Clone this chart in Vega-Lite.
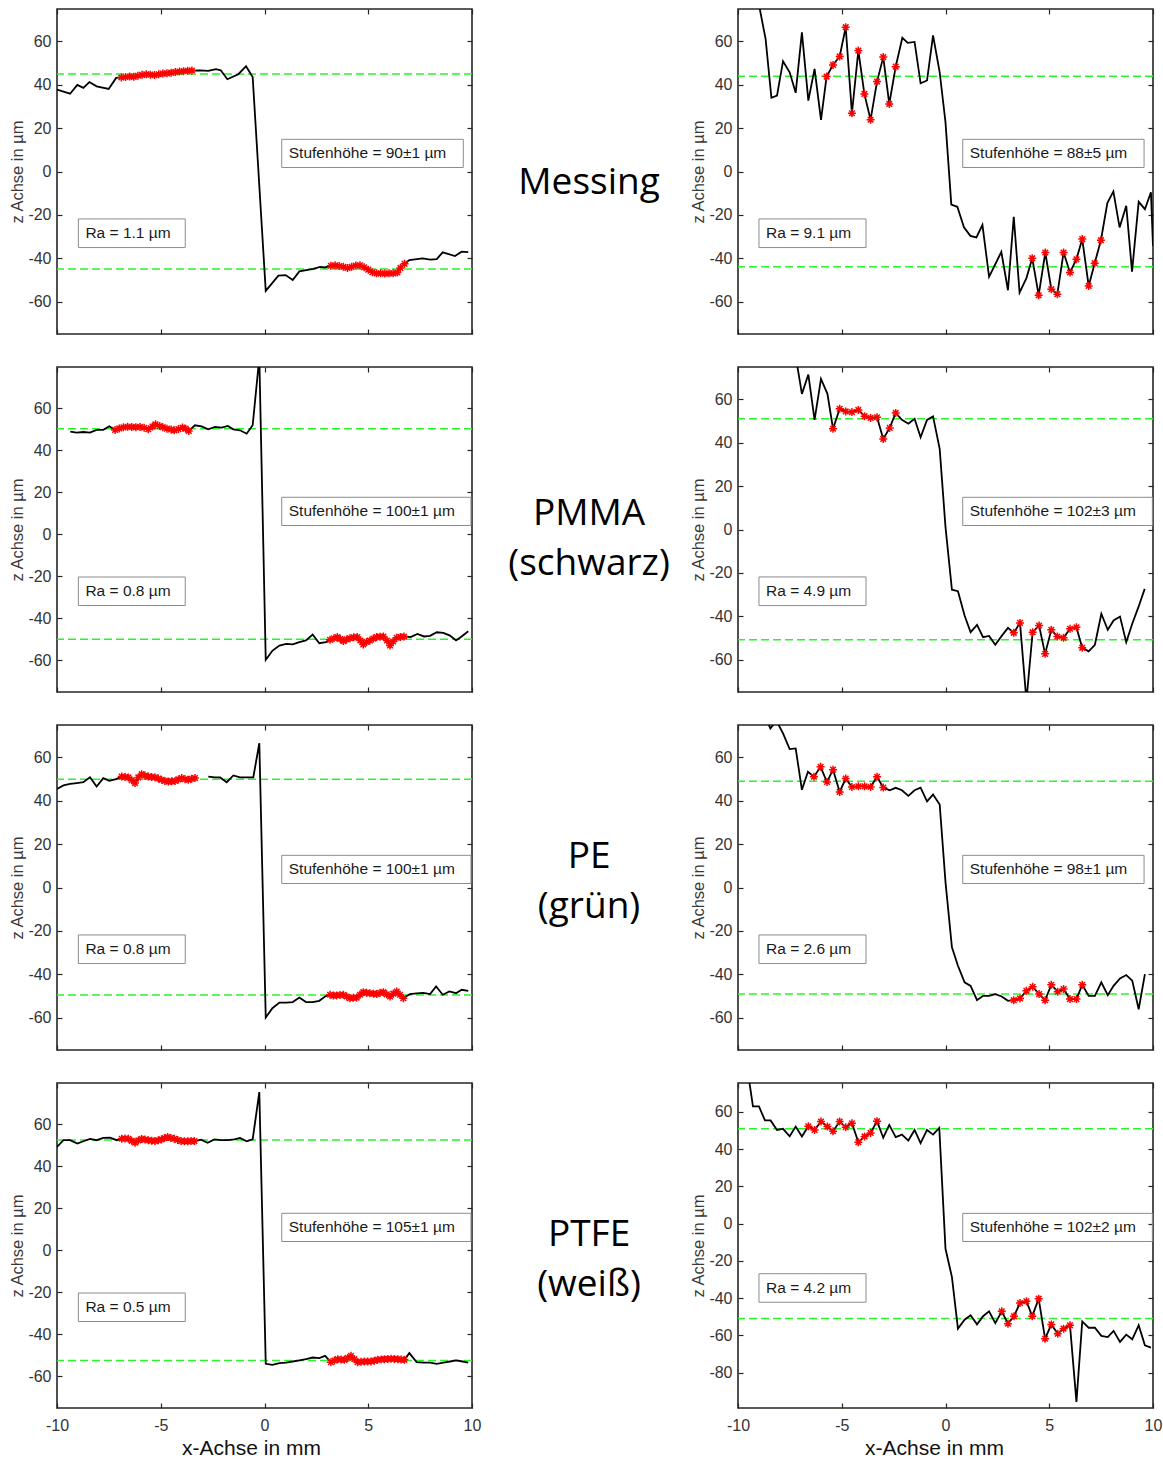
{
"$schema":"https://vega.github.io/schema/vega-lite/v6.json",
"autosize":"none",
"padding":{"left":57,"top":9,"right":1106,"bottom":1452},
"bounds":"flush",
"columns":3,
"spacing":{"row":33,"column":0},
"config":{
"view":{"stroke":"#262626","strokeWidth":1.6},
"axis":{"domain":false,"grid":false,"tickSize":-5,"tickColor":"#262626","tickWidth":1.2,"labelColor":"#333333","labelFont":"Liberation Sans","labelFontSize":16,"labelFlush":false,"labelExpr":"'' + datum.value","titleFont":"Liberation Sans","titleFontWeight":"normal","titleColor":"#383838","titleFontSize":16.5},
"axisX":{"labelPadding":14,"titlePadding":4,"titleFontSize":21,"titleColor":"#111111"},
"axisY":{"labelPadding":11,"titlePadding":2},
"line":{"color":"#000000","strokeWidth":1.8},
"point":{"shape":"M0,-1L0,1M-1,0L1,0M-0.7,-0.7L0.7,0.7M-0.7,0.7L0.7,-0.7","filled":false,"color":"#ff0000","strokeWidth":1.5,"size":64,"opacity":1},
"rule":{"color":"#2af52a","strokeDash":[8,4],"strokeWidth":1.5},
"text":{"font":"Liberation Sans","fontSize":15.5,"color":"#1a1a1a"}
},
"datasets":{
"g1L":[{"z":45},{"z":-45}],
"g1R":[{"z":44},{"z":-44}],
"g2L":[{"z":50.2},{"z":-49.9}],
"g2R":[{"z":51.1},{"z":-50.9}],
"g3L":[{"z":50},{"z":-49.6}],
"g3R":[{"z":49},{"z":-49.1}],
"g4L":[{"z":52.4},{"z":-52.4}],
"g4R":[{"z":50.9},{"z":-50.9}],
"p1L":[{"x":-10,"z":37.8},{"x":-9.37,"z":35.9},{"x":-9.02,"z":40},{"x":-8.73,"z":38.6},{"x":-8.44,"z":41.3},{"x":-8.09,"z":39.3},{"x":-7.51,"z":38.1},{"x":-7.15,"z":43.2},
{"x":-6.9,"z":43.4,"m":1},{"x":-6.7,"z":43.6,"m":1},{"x":-6.5,"z":43.8,"m":1},{"x":-6.3,"z":43.7,"m":1},{"x":-6.1,"z":44.2,"m":1},{"x":-5.9,"z":44.6,"m":1},{"x":-5.7,"z":44.9,"m":1},{"x":-5.5,"z":44.7,"m":1},{"x":-5.3,"z":44.5,"m":1},{"x":-5.1,"z":44.9,"m":1},{"x":-4.9,"z":45.2,"m":1},{"x":-4.7,"z":45.3,"m":1},{"x":-4.5,"z":45.6,"m":1},{"x":-4.3,"z":45.9,"m":1},{"x":-4.1,"z":46.1,"m":1},{"x":-3.9,"z":46.3,"m":1},{"x":-3.7,"z":46.5,"m":1},{"x":-3.5,"z":46.6,"m":1},
{"x":-3.11,"z":46.7},{"x":-2.71,"z":46.4},{"x":-2.34,"z":47.2},{"x":-2.11,"z":46.7},{"x":-1.79,"z":42.6},{"x":-1.26,"z":44.9},{"x":-0.89,"z":48.6},{"x":-0.57,"z":43.6},{"x":0.06,"z":-55.1},{"x":0.67,"z":-48.1},{"x":1.02,"z":-47.8},{"x":1.36,"z":-50.1},{"x":1.68,"z":-46.1},{"x":2.35,"z":-44.9},{"x":2.68,"z":-44},{"x":2.92,"z":-44.3},
{"x":3.2,"z":-43.5,"m":1},{"x":3.4,"z":-43.3,"m":1},{"x":3.6,"z":-43.6,"m":1},{"x":3.8,"z":-44.0,"m":1},{"x":4.0,"z":-44.5,"m":1},{"x":4.2,"z":-44.0,"m":1},{"x":4.4,"z":-43.4,"m":1},{"x":4.6,"z":-43.3,"m":1},{"x":4.8,"z":-44.2,"m":1},{"x":5.0,"z":-45.3,"m":1},{"x":5.2,"z":-46.5,"m":1},{"x":5.4,"z":-47.0,"m":1},{"x":5.6,"z":-47.0,"m":1},{"x":5.8,"z":-47.1,"m":1},{"x":6.0,"z":-47.0,"m":1},{"x":6.2,"z":-47.0,"m":1},{"x":6.4,"z":-46.6,"m":1},{"x":6.55,"z":-44.5,"m":1},{"x":6.75,"z":-42.6,"m":1},
{"x":6.98,"z":-40.9},{"x":7.62,"z":-40.1},{"x":7.98,"z":-40.7},{"x":8.3,"z":-40.4},{"x":8.59,"z":-37.3},{"x":9.18,"z":-39},{"x":9.5,"z":-37},{"x":9.82,"z":-37.2}],
"p1R":[{"x":-9.27,"z":110},{"x":-8.97,"z":76},{"x":-8.67,"z":61.2},{"x":-8.39,"z":34.0},{"x":-8.12,"z":35.0},{"x":-7.83,"z":50.9},{"x":-7.51,"z":45.8},{"x":-7.22,"z":36.3},{"x":-6.92,"z":64.2},{"x":-6.61,"z":32.7},{"x":-6.31,"z":47.4},{"x":-6.0,"z":23.8},
{"x":-5.73,"z":43.8,"m":1},{"x":-5.42,"z":49.2,"m":1},{"x":-5.1,"z":53.1,"m":1},{"x":-4.81,"z":66.6,"m":1},{"x":-4.51,"z":26.9,"m":1},{"x":-4.2,"z":55.8,"m":1},{"x":-3.91,"z":35.8,"m":1},{"x":-3.61,"z":23.9,"m":1},{"x":-3.3,"z":41.5,"m":1},{"x":-3.0,"z":52.8,"m":1},{"x":-2.71,"z":31.2,"m":1},{"x":-2.4,"z":48.4,"m":1},
{"x":-2.08,"z":61.7},{"x":-1.82,"z":59.4},{"x":-1.49,"z":59.8},{"x":-1.2,"z":40.7},{"x":-0.89,"z":42.0},{"x":-0.6,"z":62.8},{"x":-0.28,"z":45.8},{"x":0.0,"z":22.7},{"x":0.28,"z":-15.3},{"x":0.57,"z":-16.3},{"x":0.89,"z":-25.8},{"x":1.2,"z":-29.7},{"x":1.49,"z":-30.4},{"x":1.78,"z":-24.6},{"x":2.1,"z":-48.6},{"x":2.4,"z":-42.8},{"x":2.69,"z":-37.1},{"x":3.01,"z":-54.8},{"x":3.29,"z":-20.9},{"x":3.57,"z":-55.9},{"x":3.9,"z":-49.2},
{"x":4.18,"z":-40.0,"m":1},{"x":4.49,"z":-57.1,"m":1},{"x":4.81,"z":-37.4,"m":1},{"x":5.1,"z":-54.3,"m":1},{"x":5.39,"z":-56.6,"m":1},{"x":5.69,"z":-37.4,"m":1},{"x":6.0,"z":-46.6,"m":1},{"x":6.31,"z":-40.5,"m":1},{"x":6.59,"z":-31.2,"m":1},{"x":6.9,"z":-52.8,"m":1},{"x":7.19,"z":-42.3,"m":1},{"x":7.49,"z":-31.7,"m":1},
{"x":7.8,"z":-14.6},{"x":8.09,"z":-9.2},{"x":8.39,"z":-25.8},{"x":8.71,"z":-15.8},{"x":8.99,"z":-46.2},{"x":9.31,"z":-14.0},{"x":9.61,"z":-17.4},{"x":9.9,"z":-9.6},{"x":10.0,"z":-34.3}],
"p2L":[{"x":-9.36,"z":48.8},{"x":-9.05,"z":48.3},{"x":-8.73,"z":48.6},{"x":-8.41,"z":48.3},{"x":-8.09,"z":49.6},{"x":-7.77,"z":49.6},{"x":-7.48,"z":51.3},
{"x":-7.2,"z":49.6,"m":1},{"x":-7.0,"z":50.3,"m":1},{"x":-6.8,"z":50.8,"m":1},{"x":-6.6,"z":51.1,"m":1},{"x":-6.4,"z":51.0,"m":1},{"x":-6.2,"z":50.9,"m":1},{"x":-6.0,"z":51.0,"m":1},{"x":-5.8,"z":50.6,"m":1},{"x":-5.6,"z":49.9,"m":1},{"x":-5.4,"z":51.2,"m":1},{"x":-5.25,"z":52.3,"m":1},{"x":-5.05,"z":51.4,"m":1},{"x":-4.9,"z":50.9,"m":1},{"x":-4.7,"z":50.2,"m":1},{"x":-4.5,"z":49.8,"m":1},{"x":-4.35,"z":49.4,"m":1},{"x":-4.15,"z":50.0,"m":1},{"x":-3.95,"z":50.7,"m":1},{"x":-3.8,"z":50.2,"m":1},{"x":-3.65,"z":49.1,"m":1},
{"x":-3.35,"z":51.8},{"x":-3.03,"z":51.3},{"x":-2.71,"z":49.9},{"x":-2.39,"z":51},{"x":-2.06,"z":50.7},{"x":-1.77,"z":51.5},{"x":-1.5,"z":49.9},{"x":-1.18,"z":49.4},{"x":-0.86,"z":47.8},{"x":-0.57,"z":51.8},{"x":-0.25,"z":84},{"x":0.06,"z":-59.7},{"x":0.39,"z":-55.3},{"x":0.72,"z":-52.9},{"x":1.04,"z":-52.1},{"x":1.36,"z":-52.4},{"x":1.68,"z":-51.3},{"x":2.0,"z":-50.5},{"x":2.32,"z":-47.7},{"x":2.64,"z":-51.8},{"x":2.96,"z":-51.3},
{"x":3.16,"z":-50.2,"m":1},{"x":3.35,"z":-49.5,"m":1},{"x":3.51,"z":-48.9,"m":1},{"x":3.65,"z":-49.8,"m":1},{"x":3.8,"z":-50.8,"m":1},{"x":3.96,"z":-50.0,"m":1},{"x":4.12,"z":-49.4,"m":1},{"x":4.3,"z":-49.0,"m":1},{"x":4.47,"z":-48.9,"m":1},{"x":4.62,"z":-50.5,"m":1},{"x":4.76,"z":-52.4,"m":1},{"x":4.92,"z":-51.2,"m":1},{"x":5.08,"z":-50.5,"m":1},{"x":5.25,"z":-49.6,"m":1},{"x":5.41,"z":-48.9,"m":1},{"x":5.57,"z":-48.7,"m":1},{"x":5.73,"z":-48.6,"m":1},{"x":5.9,"z":-50.5,"m":1},{"x":6.05,"z":-52.9,"m":1},{"x":6.2,"z":-51.0,"m":1},{"x":6.37,"z":-49.2,"m":1},{"x":6.55,"z":-48.8,"m":1},{"x":6.72,"z":-48.6,"m":1},
{"x":7.04,"z":-48.9},{"x":7.37,"z":-47.4},{"x":7.69,"z":-48.6},{"x":7.98,"z":-48.3},{"x":8.3,"z":-46.6},{"x":8.62,"z":-46.9},{"x":8.94,"z":-48.2},{"x":9.23,"z":-50.5},{"x":9.5,"z":-48.6},{"x":9.82,"z":-46.1}],
"p2R":[{"x":-7.22,"z":80},{"x":-6.92,"z":62.6},{"x":-6.61,"z":71.5},{"x":-6.31,"z":50.6},{"x":-6.0,"z":69.5},{"x":-5.69,"z":62.6},
{"x":-5.42,"z":46.5,"m":1},{"x":-5.1,"z":55.7,"m":1},{"x":-4.81,"z":54.5,"m":1},{"x":-4.51,"z":54.2,"m":1},{"x":-4.2,"z":55.2,"m":1},{"x":-3.9,"z":52.3,"m":1},{"x":-3.61,"z":51.5,"m":1},{"x":-3.3,"z":51.8,"m":1},{"x":-3.0,"z":41.8,"m":1},{"x":-2.69,"z":46.9,"m":1},{"x":-2.4,"z":53.8,"m":1},
{"x":-2.1,"z":50.6},{"x":-1.79,"z":48.8},{"x":-1.49,"z":51.1},{"x":-1.2,"z":42.6},{"x":-0.89,"z":50.6},{"x":-0.6,"z":52.2},{"x":-0.28,"z":37.2},{"x":0.0,"z":1.1},{"x":0.31,"z":-27.8},{"x":0.6,"z":-28.5},{"x":0.92,"z":-39.7},{"x":1.21,"z":-47.4},{"x":1.52,"z":-44.0},{"x":1.81,"z":-49.7},{"x":2.1,"z":-49.1},{"x":2.4,"z":-53.2},{"x":2.71,"z":-49.1},{"x":3.01,"z":-45.4},
{"x":3.29,"z":-47.7,"m":1},{"x":3.59,"z":-43.1,"m":1},{"x":3.9,"z":-79,"m":1},{"x":4.2,"z":-47.4,"m":1},{"x":4.51,"z":-44.3,"m":1},{"x":4.8,"z":-57.4,"m":1},{"x":5.1,"z":-46.3,"m":1},{"x":5.39,"z":-49.4,"m":1},{"x":5.69,"z":-50.0,"m":1},{"x":6.0,"z":-45.8,"m":1},{"x":6.31,"z":-45.1,"m":1},{"x":6.59,"z":-54.6,"m":1},
{"x":6.9,"z":-56.2},{"x":7.2,"z":-53.2},{"x":7.51,"z":-38.9},{"x":7.82,"z":-46.3},{"x":8.1,"z":-42.0},{"x":8.41,"z":-40.2},{"x":8.71,"z":-52.0},{"x":9.0,"z":-43.5},{"x":9.31,"z":-35.5},{"x":9.6,"z":-27.4}],
"p3L":[{"x":-10,"z":45.5,"s":1},{"x":-9.69,"z":47.1,"s":1},{"x":-9.37,"z":47.8,"s":1},{"x":-9.05,"z":48.2,"s":1},{"x":-8.73,"z":48.6,"s":1},{"x":-8.41,"z":50.9,"s":1},{"x":-8.09,"z":46.6,"s":1},{"x":-7.77,"z":50.5,"s":1},{"x":-7.48,"z":49.2,"s":1},{"x":-7.16,"z":50.0,"s":1},
{"x":-6.88,"z":51.2,"m":1,"s":1},{"x":-6.72,"z":51.0,"m":1,"s":1},{"x":-6.56,"z":50.8,"m":1,"s":1},{"x":-6.4,"z":49.5,"m":1,"s":1},{"x":-6.24,"z":48.2,"m":1,"s":1},{"x":-6.08,"z":50.8,"m":1,"s":1},{"x":-5.92,"z":52.3,"m":1,"s":1},{"x":-5.76,"z":51.7,"m":1,"s":1},{"x":-5.6,"z":51.2,"m":1,"s":1},{"x":-5.44,"z":51.0,"m":1,"s":1},{"x":-5.28,"z":50.9,"m":1,"s":1},{"x":-5.12,"z":50.3,"m":1,"s":1},{"x":-4.96,"z":49.7,"m":1,"s":1},{"x":-4.8,"z":49.2,"m":1,"s":1},{"x":-4.63,"z":48.9,"m":1,"s":1},{"x":-4.47,"z":49.0,"m":1,"s":1},{"x":-4.31,"z":49.2,"m":1,"s":1},{"x":-4.15,"z":49.9,"m":1,"s":1},{"x":-3.99,"z":50.5,"m":1,"s":1},{"x":-3.83,"z":50.0,"m":1,"s":1},{"x":-3.67,"z":49.7,"m":1,"s":1},{"x":-3.51,"z":50.2,"m":1,"s":1},{"x":-3.35,"z":50.5,"m":1,"s":1},
{"x":-2.71,"z":51.2,"s":2},{"x":-2.39,"z":50.8,"s":2},{"x":-2.14,"z":50.8,"s":2},{"x":-1.82,"z":48.6,"s":2},{"x":-1.5,"z":51.7,"s":2},{"x":-1.18,"z":50.8,"s":2},{"x":-0.86,"z":50.8,"s":2},{"x":-0.54,"z":50.8,"s":2},{"x":-0.25,"z":66.6,"s":2},{"x":0.06,"z":-60,"s":2},{"x":0.38,"z":-55.7,"s":2},{"x":0.72,"z":-53.1,"s":2},{"x":1.04,"z":-53.1,"s":2},{"x":1.36,"z":-52.9,"s":2},{"x":1.68,"z":-50.8,"s":2},{"x":2.0,"z":-52.9,"s":2},{"x":2.32,"z":-52.9,"s":2},{"x":2.64,"z":-52.3,"s":2},{"x":2.92,"z":-50.3,"s":2},
{"x":3.16,"z":-49.5,"m":1,"s":2},{"x":3.32,"z":-49.9,"m":1,"s":2},{"x":3.48,"z":-49.8,"m":1,"s":2},{"x":3.64,"z":-49.6,"m":1,"s":2},{"x":3.8,"z":-49.5,"m":1,"s":2},{"x":3.96,"z":-50.3,"m":1,"s":2},{"x":4.12,"z":-51.1,"m":1,"s":2},{"x":4.28,"z":-50.9,"m":1,"s":2},{"x":4.44,"z":-50.8,"m":1,"s":2},{"x":4.6,"z":-49.5,"m":1,"s":2},{"x":4.76,"z":-48.3,"m":1,"s":2},{"x":4.92,"z":-48.6,"m":1,"s":2},{"x":5.08,"z":-48.8,"m":1,"s":2},{"x":5.25,"z":-49.0,"m":1,"s":2},{"x":5.41,"z":-49.2,"m":1,"s":2},{"x":5.57,"z":-48.6,"m":1,"s":2},{"x":5.73,"z":-48.3,"m":1,"s":2},{"x":5.89,"z":-49.3,"m":1,"s":2},{"x":6.05,"z":-50.3,"m":1,"s":2},{"x":6.21,"z":-49.0,"m":1,"s":2},{"x":6.37,"z":-48.0,"m":1,"s":2},{"x":6.53,"z":-49.5,"m":1,"s":2},{"x":6.69,"z":-51.1,"m":1,"s":2},
{"x":7.01,"z":-49.2,"s":2},{"x":7.33,"z":-48.9,"s":2},{"x":7.65,"z":-48.6,"s":2},{"x":7.98,"z":-49.2,"s":2},{"x":8.27,"z":-45.7,"s":2},{"x":8.59,"z":-49.5,"s":2},{"x":8.91,"z":-48.0,"s":2},{"x":9.23,"z":-48.8,"s":2},{"x":9.5,"z":-47.2,"s":2},{"x":9.82,"z":-47.7,"s":2}],
"p3R":[{"x":-8.7,"z":79},{"x":-8.44,"z":73.4},{"x":-8.15,"z":77},{"x":-7.83,"z":71.1},{"x":-7.51,"z":63.9},{"x":-7.22,"z":64.2},{"x":-6.92,"z":45.1},{"x":-6.63,"z":53.4},
{"x":-6.34,"z":51.1,"m":1},{"x":-6.02,"z":55.7,"m":1},{"x":-5.71,"z":48.7,"m":1},{"x":-5.42,"z":54.4,"m":1},{"x":-5.1,"z":44.1,"m":1},{"x":-4.81,"z":50.3,"m":1},{"x":-4.51,"z":46.4,"m":1},{"x":-4.2,"z":46.7,"m":1},{"x":-3.9,"z":46.7,"m":1},{"x":-3.61,"z":46.4,"m":1},{"x":-3.3,"z":51.1,"m":1},{"x":-3.0,"z":46.1,"m":1},
{"x":-2.69,"z":44.9},{"x":-2.4,"z":46.0},{"x":-2.1,"z":44.9},{"x":-1.79,"z":42.3},{"x":-1.49,"z":44.9},{"x":-1.2,"z":46.1},{"x":-0.89,"z":39.8},{"x":-0.6,"z":42.9},{"x":-0.28,"z":38.3},{"x":0.0,"z":2.5},{"x":0.31,"z":-27.6},{"x":0.6,"z":-36.1},{"x":0.92,"z":-43.8},{"x":1.21,"z":-45.4},{"x":1.52,"z":-52.0},{"x":1.81,"z":-50.0},{"x":2.1,"z":-50.0},{"x":2.4,"z":-49.2},{"x":2.71,"z":-50.3},{"x":3.01,"z":-52.3},
{"x":3.29,"z":-52.0,"m":1},{"x":3.59,"z":-51.2,"m":1},{"x":3.9,"z":-47.7,"m":1},{"x":4.2,"z":-45.8,"m":1},{"x":4.51,"z":-49.2,"m":1},{"x":4.8,"z":-52.0,"m":1},{"x":5.1,"z":-44.9,"m":1},{"x":5.41,"z":-48.1,"m":1},{"x":5.69,"z":-46.9,"m":1},{"x":6.0,"z":-51.5,"m":1},{"x":6.31,"z":-51.5,"m":1},{"x":6.59,"z":-44.9,"m":1},
{"x":6.9,"z":-50.0},{"x":7.2,"z":-50.0},{"x":7.51,"z":-43.8},{"x":7.82,"z":-49.7},{"x":8.1,"z":-45.4},{"x":8.41,"z":-42.0},{"x":8.71,"z":-40.4},{"x":9.0,"z":-43.0},{"x":9.31,"z":-56.2},{"x":9.61,"z":-40.0}],
"p4L":[{"x":-10,"z":49.1},{"x":-9.69,"z":52.3},{"x":-9.37,"z":52.3},{"x":-9.02,"z":50.7},{"x":-8.73,"z":51.8},{"x":-8.41,"z":52.9},{"x":-8.09,"z":52.3},{"x":-7.77,"z":53.4},{"x":-7.45,"z":53.5},{"x":-7.12,"z":52.3},
{"x":-6.88,"z":53.0,"m":1},{"x":-6.72,"z":53.1,"m":1},{"x":-6.56,"z":53.0,"m":1},{"x":-6.4,"z":52.0,"m":1},{"x":-6.24,"z":51.1,"m":1},{"x":-6.08,"z":52.2,"m":1},{"x":-5.92,"z":52.9,"m":1},{"x":-5.76,"z":52.6,"m":1},{"x":-5.6,"z":52.3,"m":1},{"x":-5.44,"z":52.1,"m":1},{"x":-5.28,"z":51.9,"m":1},{"x":-5.12,"z":52.3,"m":1},{"x":-4.96,"z":52.7,"m":1},{"x":-4.82,"z":53.3,"m":1},{"x":-4.67,"z":53.8,"m":1},{"x":-4.51,"z":53.4,"m":1},{"x":-4.35,"z":53.0,"m":1},{"x":-4.18,"z":52.4,"m":1},{"x":-4.02,"z":51.9,"m":1},{"x":-3.86,"z":51.8,"m":1},{"x":-3.7,"z":51.8,"m":1},{"x":-3.54,"z":51.9,"m":1},{"x":-3.38,"z":51.9,"m":1},
{"x":-3.06,"z":52.6},{"x":-2.74,"z":51.1},{"x":-2.42,"z":52.7},{"x":-2.1,"z":52.3},{"x":-1.77,"z":52.3},{"x":-1.45,"z":52.7},{"x":-1.18,"z":53.4},{"x":-0.86,"z":51.8},{"x":-0.57,"z":52.7},{"x":-0.25,"z":75.2},{"x":0.06,"z":-54},{"x":0.38,"z":-54.5},{"x":0.72,"z":-53.7},{"x":1.04,"z":-53.4},{"x":1.36,"z":-52.9},{"x":1.68,"z":-52.4},{"x":2.0,"z":-51.8},{"x":2.32,"z":-51.0},{"x":2.64,"z":-51.3},{"x":2.92,"z":-50.2},
{"x":3.2,"z":-53.2,"m":1},{"x":3.37,"z":-52.4,"m":1},{"x":3.53,"z":-51.8,"m":1},{"x":3.69,"z":-52.0,"m":1},{"x":3.85,"z":-52.1,"m":1},{"x":4.01,"z":-51.2,"m":1},{"x":4.17,"z":-50.2,"m":1},{"x":4.33,"z":-51.8,"m":1},{"x":4.49,"z":-53.2,"m":1},{"x":4.65,"z":-53.0,"m":1},{"x":4.81,"z":-52.9,"m":1},{"x":4.97,"z":-52.9,"m":1},{"x":5.13,"z":-52.9,"m":1},{"x":5.29,"z":-52.5,"m":1},{"x":5.45,"z":-52.1,"m":1},{"x":5.62,"z":-51.9,"m":1},{"x":5.78,"z":-51.8,"m":1},{"x":5.94,"z":-51.7,"m":1},{"x":6.1,"z":-51.6,"m":1},{"x":6.26,"z":-51.7,"m":1},{"x":6.42,"z":-51.8,"m":1},{"x":6.58,"z":-52.0,"m":1},{"x":6.74,"z":-52.1,"m":1},
{"x":6.98,"z":-48.9},{"x":7.33,"z":-53.2},{"x":7.65,"z":-53.4},{"x":7.98,"z":-53.4},{"x":8.3,"z":-54.0},{"x":8.62,"z":-53.4},{"x":8.94,"z":-52.9},{"x":9.23,"z":-52.4},{"x":9.55,"z":-52.9},{"x":9.82,"z":-53.4}],
"p4R":[{"x":-9.57,"z":85},{"x":-9.28,"z":62.9},{"x":-8.99,"z":62.9},{"x":-8.7,"z":55.4},{"x":-8.43,"z":55.4},{"x":-8.12,"z":50.3},{"x":-7.83,"z":50.9},{"x":-7.51,"z":46.9},{"x":-7.22,"z":52.1},{"x":-6.92,"z":46.8},
{"x":-6.61,"z":52.3,"m":1},{"x":-6.31,"z":50.3,"m":1},{"x":-6.0,"z":54.8,"m":1},{"x":-5.69,"z":52.1,"m":1},{"x":-5.42,"z":49.6,"m":1},{"x":-5.1,"z":54.8,"m":1},{"x":-4.81,"z":51.8,"m":1},{"x":-4.51,"z":53.9,"m":1},{"x":-4.2,"z":43.7,"m":1},{"x":-3.9,"z":46.8,"m":1},{"x":-3.61,"z":48.7,"m":1},{"x":-3.3,"z":55.0,"m":1},
{"x":-3.0,"z":46.1},{"x":-2.71,"z":53.0},{"x":-2.4,"z":46.4},{"x":-2.1,"z":47.8},{"x":-1.79,"z":44.6},{"x":-1.49,"z":50.3},{"x":-1.2,"z":43.2},{"x":-0.89,"z":50.3},{"x":-0.6,"z":47.8},{"x":-0.3,"z":51.4},{"x":0.0,"z":-13.5},{"x":0.31,"z":-28.7},{"x":0.6,"z":-56.4},{"x":0.92,"z":-51.6},{"x":1.21,"z":-49.2},{"x":1.52,"z":-54.1},{"x":1.81,"z":-49.7},{"x":2.1,"z":-47.1},{"x":2.4,"z":-53.4},
{"x":2.71,"z":-47.1,"m":1},{"x":3.01,"z":-53.7,"m":1},{"x":3.3,"z":-49.7,"m":1},{"x":3.59,"z":-42.6,"m":1},{"x":3.9,"z":-41.7,"m":1},{"x":4.18,"z":-49.7,"m":1},{"x":4.49,"z":-40.3,"m":1},{"x":4.8,"z":-61.8,"m":1},{"x":5.1,"z":-54.1,"m":1},{"x":5.41,"z":-59.1,"m":1},{"x":5.69,"z":-56.4,"m":1},{"x":6.0,"z":-54.6,"m":1},
{"x":6.31,"z":-95.7},{"x":6.59,"z":-52.5},{"x":6.9,"z":-55.9},{"x":7.2,"z":-55.9},{"x":7.51,"z":-60.3},{"x":7.82,"z":-60.9},{"x":8.1,"z":-57.6},{"x":8.41,"z":-63.5},{"x":8.71,"z":-59.6},{"x":9.0,"z":-62.1},{"x":9.31,"z":-54.6},{"x":9.61,"z":-65.3},{"x":9.9,"z":-66.6}]
},
"concat":[
{"width":415,"height":325,"resolve":{"axis":{"x":"independent","y":"independent"}},"layer":[
{"data":{"name":"g1L"},"mark":{"type":"rule"},"encoding":{"y":{"field":"z","type":"quantitative","scale":{"domain":[-75,75],"nice":false,"zero":false},"axis":null}}},
{"data":{"name":"p1L"},"mark":{"type":"line","clip":true},"encoding":{"x":{"field":"x","type":"quantitative","scale":{"domain":[-10,10],"nice":false,"zero":false},"axis":{"values":[-10,-5,0,5,10],"labels":false,"title":null}},"y":{"field":"z","type":"quantitative","scale":{"domain":[-75,75],"nice":false,"zero":false},"axis":{"values":[-60,-40,-20,0,20,40,60],"title":"z Achse in µm"}}}},
{"data":{"name":"p1L"},"transform":[{"filter":"datum.m == 1"}],"mark":{"type":"point","clip":true},"encoding":{"x":{"field":"x","type":"quantitative","axis":null},"y":{"field":"z","type":"quantitative","axis":null}}},
{"data":{"values":[{"t":"Stufenhöhe = 90±1 µm"}]},"mark":{"type":"rect","filled":false,"color":"#8c8c8c","strokeWidth":1},"encoding":{"x":{"datum":0.83,"type":"quantitative","axis":{"orient":"top","values":[-10,-5,0,5,10],"labels":false,"title":null}},"x2":{"datum":9.58},"y":{"datum":14.85,"type":"quantitative","axis":{"orient":"right","values":[-60,-40,-20,0,20,40,60],"labels":false,"title":null}},"y2":{"datum":1.85}}},
{"data":{"values":[{"t":"Stufenhöhe = 90±1 µm"}]},"mark":{"type":"text","align":"left","baseline":"middle"},"encoding":{"text":{"field":"t"},"x":{"datum":1.17,"type":"quantitative","axis":null},"y":{"datum":8.35,"type":"quantitative","axis":null}}},
{"data":{"values":[{"t":"Ra = 1.1 µm"}]},"mark":{"type":"rect","filled":false,"color":"#8c8c8c","strokeWidth":1},"encoding":{"x":{"datum":-8.97,"type":"quantitative","axis":null},"x2":{"datum":-3.82},"y":{"datum":-21.9,"type":"quantitative","axis":null},"y2":{"datum":-35.1}}},
{"data":{"values":[{"t":"Ra = 1.1 µm"}]},"mark":{"type":"text","align":"left","baseline":"middle"},"encoding":{"text":{"field":"t"},"x":{"datum":-8.63,"type":"quantitative","axis":null},"y":{"datum":-28.5,"type":"quantitative","axis":null}}}
]},
{"width":266,"height":325,"view":{"stroke":null},"data":{"values":[{"t":"Messing"}]},"mark":{"type":"text","font":"Open Sans","fontSize":37,"lineBreak":"\n","lineHeight":50,"align":"center","baseline":"middle","color":"#000000"},"encoding":{"text":{"field":"t"},"x":{"datum":0.44,"type":"quantitative","scale":{"domain":[0,1]},"axis":null},"y":{"datum":0.534,"type":"quantitative","scale":{"domain":[0,1],"reverse":true},"axis":null}}},
{"width":415,"height":325,"resolve":{"axis":{"x":"independent","y":"independent"}},"layer":[
{"data":{"name":"g1R"},"mark":{"type":"rule"},"encoding":{"y":{"field":"z","type":"quantitative","scale":{"domain":[-75,75],"nice":false,"zero":false},"axis":null}}},
{"data":{"name":"p1R"},"mark":{"type":"line","clip":true},"encoding":{"x":{"field":"x","type":"quantitative","scale":{"domain":[-10,10],"nice":false,"zero":false},"axis":{"values":[-10,-5,0,5,10],"labels":false,"title":null}},"y":{"field":"z","type":"quantitative","scale":{"domain":[-75,75],"nice":false,"zero":false},"axis":{"values":[-60,-40,-20,0,20,40,60],"title":"z Achse in µm"}}}},
{"data":{"name":"p1R"},"transform":[{"filter":"datum.m == 1"}],"mark":{"type":"point","clip":true},"encoding":{"x":{"field":"x","type":"quantitative","axis":null},"y":{"field":"z","type":"quantitative","axis":null}}},
{"data":{"values":[{"t":"Stufenhöhe = 88±5 µm"}]},"mark":{"type":"rect","filled":false,"color":"#8c8c8c","strokeWidth":1},"encoding":{"x":{"datum":0.83,"type":"quantitative","axis":{"orient":"top","values":[-10,-5,0,5,10],"labels":false,"title":null}},"x2":{"datum":9.57},"y":{"datum":14.85,"type":"quantitative","axis":{"orient":"right","values":[-60,-40,-20,0,20,40,60],"labels":false,"title":null}},"y2":{"datum":1.85}}},
{"data":{"values":[{"t":"Stufenhöhe = 88±5 µm"}]},"mark":{"type":"text","align":"left","baseline":"middle"},"encoding":{"text":{"field":"t"},"x":{"datum":1.17,"type":"quantitative","axis":null},"y":{"datum":8.35,"type":"quantitative","axis":null}}},
{"data":{"values":[{"t":"Ra = 9.1 µm"}]},"mark":{"type":"rect","filled":false,"color":"#8c8c8c","strokeWidth":1},"encoding":{"x":{"datum":-8.99,"type":"quantitative","axis":null},"x2":{"datum":-3.83},"y":{"datum":-21.9,"type":"quantitative","axis":null},"y2":{"datum":-35.1}}},
{"data":{"values":[{"t":"Ra = 9.1 µm"}]},"mark":{"type":"text","align":"left","baseline":"middle"},"encoding":{"text":{"field":"t"},"x":{"datum":-8.65,"type":"quantitative","axis":null},"y":{"datum":-28.5,"type":"quantitative","axis":null}}}
]},
{"width":415,"height":325,"resolve":{"axis":{"x":"independent","y":"independent"}},"layer":[
{"data":{"name":"g2L"},"mark":{"type":"rule"},"encoding":{"y":{"field":"z","type":"quantitative","scale":{"domain":[-75,79.5],"nice":false,"zero":false},"axis":null}}},
{"data":{"name":"p2L"},"mark":{"type":"line","clip":true},"encoding":{"x":{"field":"x","type":"quantitative","scale":{"domain":[-10,10],"nice":false,"zero":false},"axis":{"values":[-10,-5,0,5,10],"labels":false,"title":null}},"y":{"field":"z","type":"quantitative","scale":{"domain":[-75,79.5],"nice":false,"zero":false},"axis":{"values":[-60,-40,-20,0,20,40,60],"title":"z Achse in µm"}}}},
{"data":{"name":"p2L"},"transform":[{"filter":"datum.m == 1"}],"mark":{"type":"point","clip":true},"encoding":{"x":{"field":"x","type":"quantitative","axis":null},"y":{"field":"z","type":"quantitative","axis":null}}},
{"data":{"values":[{"t":"Stufenhöhe = 100±1 µm"}]},"mark":{"type":"rect","filled":false,"color":"#8c8c8c","strokeWidth":1},"encoding":{"x":{"datum":0.83,"type":"quantitative","axis":{"orient":"top","values":[-10,-5,0,5,10],"labels":false,"title":null}},"x2":{"datum":9.95},"y":{"datum":17.56,"type":"quantitative","axis":{"orient":"right","values":[-60,-40,-20,0,20,40,60],"labels":false,"title":null}},"y2":{"datum":4.15}}},
{"data":{"values":[{"t":"Stufenhöhe = 100±1 µm"}]},"mark":{"type":"text","align":"left","baseline":"middle"},"encoding":{"text":{"field":"t"},"x":{"datum":1.17,"type":"quantitative","axis":null},"y":{"datum":10.85,"type":"quantitative","axis":null}}},
{"data":{"values":[{"t":"Ra = 0.8 µm"}]},"mark":{"type":"rect","filled":false,"color":"#8c8c8c","strokeWidth":1},"encoding":{"x":{"datum":-8.97,"type":"quantitative","axis":null},"x2":{"datum":-3.82},"y":{"datum":-20.33,"type":"quantitative","axis":null},"y2":{"datum":-33.88}}},
{"data":{"values":[{"t":"Ra = 0.8 µm"}]},"mark":{"type":"text","align":"left","baseline":"middle"},"encoding":{"text":{"field":"t"},"x":{"datum":-8.63,"type":"quantitative","axis":null},"y":{"datum":-27.1,"type":"quantitative","axis":null}}}
]},
{"width":266,"height":325,"view":{"stroke":null},"data":{"values":[{"t":"PMMA\n(schwarz)"}]},"mark":{"type":"text","font":"Open Sans","fontSize":37,"lineBreak":"\n","lineHeight":50,"align":"center","baseline":"middle","color":"#000000"},"encoding":{"text":{"field":"t"},"x":{"datum":0.44,"type":"quantitative","scale":{"domain":[0,1]},"axis":null},"y":{"datum":0.452,"type":"quantitative","scale":{"domain":[0,1],"reverse":true},"axis":null}}},
{"width":415,"height":325,"resolve":{"axis":{"x":"independent","y":"independent"}},"layer":[
{"data":{"name":"g2R"},"mark":{"type":"rule"},"encoding":{"y":{"field":"z","type":"quantitative","scale":{"domain":[-75,75],"nice":false,"zero":false},"axis":null}}},
{"data":{"name":"p2R"},"mark":{"type":"line","clip":true},"encoding":{"x":{"field":"x","type":"quantitative","scale":{"domain":[-10,10],"nice":false,"zero":false},"axis":{"values":[-10,-5,0,5,10],"labels":false,"title":null}},"y":{"field":"z","type":"quantitative","scale":{"domain":[-75,75],"nice":false,"zero":false},"axis":{"values":[-60,-40,-20,0,20,40,60],"title":"z Achse in µm"}}}},
{"data":{"name":"p2R"},"transform":[{"filter":"datum.m == 1"}],"mark":{"type":"point","clip":true},"encoding":{"x":{"field":"x","type":"quantitative","axis":null},"y":{"field":"z","type":"quantitative","axis":null}}},
{"data":{"values":[{"t":"Stufenhöhe = 102±3 µm"}]},"mark":{"type":"rect","filled":false,"color":"#8c8c8c","strokeWidth":1},"encoding":{"x":{"datum":0.83,"type":"quantitative","axis":{"orient":"top","values":[-10,-5,0,5,10],"labels":false,"title":null}},"x2":{"datum":9.97},"y":{"datum":14.85,"type":"quantitative","axis":{"orient":"right","values":[-60,-40,-20,0,20,40,60],"labels":false,"title":null}},"y2":{"datum":1.85}}},
{"data":{"values":[{"t":"Stufenhöhe = 102±3 µm"}]},"mark":{"type":"text","align":"left","baseline":"middle"},"encoding":{"text":{"field":"t"},"x":{"datum":1.17,"type":"quantitative","axis":null},"y":{"datum":8.35,"type":"quantitative","axis":null}}},
{"data":{"values":[{"t":"Ra = 4.9 µm"}]},"mark":{"type":"rect","filled":false,"color":"#8c8c8c","strokeWidth":1},"encoding":{"x":{"datum":-8.99,"type":"quantitative","axis":null},"x2":{"datum":-3.83},"y":{"datum":-21.9,"type":"quantitative","axis":null},"y2":{"datum":-35.1}}},
{"data":{"values":[{"t":"Ra = 4.9 µm"}]},"mark":{"type":"text","align":"left","baseline":"middle"},"encoding":{"text":{"field":"t"},"x":{"datum":-8.65,"type":"quantitative","axis":null},"y":{"datum":-28.5,"type":"quantitative","axis":null}}}
]},
{"width":415,"height":325,"resolve":{"axis":{"x":"independent","y":"independent"}},"layer":[
{"data":{"name":"g3L"},"mark":{"type":"rule"},"encoding":{"y":{"field":"z","type":"quantitative","scale":{"domain":[-75,75],"nice":false,"zero":false},"axis":null}}},
{"data":{"name":"p3L"},"mark":{"type":"line","clip":true},"encoding":{"detail":{"field":"s","type":"nominal"},"x":{"field":"x","type":"quantitative","scale":{"domain":[-10,10],"nice":false,"zero":false},"axis":{"values":[-10,-5,0,5,10],"labels":false,"title":null}},"y":{"field":"z","type":"quantitative","scale":{"domain":[-75,75],"nice":false,"zero":false},"axis":{"values":[-60,-40,-20,0,20,40,60],"title":"z Achse in µm"}}}},
{"data":{"name":"p3L"},"transform":[{"filter":"datum.m == 1"}],"mark":{"type":"point","clip":true},"encoding":{"x":{"field":"x","type":"quantitative","axis":null},"y":{"field":"z","type":"quantitative","axis":null}}},
{"data":{"values":[{"t":"Stufenhöhe = 100±1 µm"}]},"mark":{"type":"rect","filled":false,"color":"#8c8c8c","strokeWidth":1},"encoding":{"x":{"datum":0.83,"type":"quantitative","axis":{"orient":"top","values":[-10,-5,0,5,10],"labels":false,"title":null}},"x2":{"datum":9.95},"y":{"datum":14.85,"type":"quantitative","axis":{"orient":"right","values":[-60,-40,-20,0,20,40,60],"labels":false,"title":null}},"y2":{"datum":1.85}}},
{"data":{"values":[{"t":"Stufenhöhe = 100±1 µm"}]},"mark":{"type":"text","align":"left","baseline":"middle"},"encoding":{"text":{"field":"t"},"x":{"datum":1.17,"type":"quantitative","axis":null},"y":{"datum":8.35,"type":"quantitative","axis":null}}},
{"data":{"values":[{"t":"Ra = 0.8 µm"}]},"mark":{"type":"rect","filled":false,"color":"#8c8c8c","strokeWidth":1},"encoding":{"x":{"datum":-8.97,"type":"quantitative","axis":null},"x2":{"datum":-3.82},"y":{"datum":-21.9,"type":"quantitative","axis":null},"y2":{"datum":-35.1}}},
{"data":{"values":[{"t":"Ra = 0.8 µm"}]},"mark":{"type":"text","align":"left","baseline":"middle"},"encoding":{"text":{"field":"t"},"x":{"datum":-8.63,"type":"quantitative","axis":null},"y":{"datum":-28.5,"type":"quantitative","axis":null}}}
]},
{"width":266,"height":325,"view":{"stroke":null},"data":{"values":[{"t":"PE\n(grün)"}]},"mark":{"type":"text","font":"Open Sans","fontSize":37,"lineBreak":"\n","lineHeight":50,"align":"center","baseline":"middle","color":"#000000"},"encoding":{"text":{"field":"t"},"x":{"datum":0.44,"type":"quantitative","scale":{"domain":[0,1]},"axis":null},"y":{"datum":0.407,"type":"quantitative","scale":{"domain":[0,1],"reverse":true},"axis":null}}},
{"width":415,"height":325,"resolve":{"axis":{"x":"independent","y":"independent"}},"layer":[
{"data":{"name":"g3R"},"mark":{"type":"rule"},"encoding":{"y":{"field":"z","type":"quantitative","scale":{"domain":[-75,75],"nice":false,"zero":false},"axis":null}}},
{"data":{"name":"p3R"},"mark":{"type":"line","clip":true},"encoding":{"x":{"field":"x","type":"quantitative","scale":{"domain":[-10,10],"nice":false,"zero":false},"axis":{"values":[-10,-5,0,5,10],"labels":false,"title":null}},"y":{"field":"z","type":"quantitative","scale":{"domain":[-75,75],"nice":false,"zero":false},"axis":{"values":[-60,-40,-20,0,20,40,60],"title":"z Achse in µm"}}}},
{"data":{"name":"p3R"},"transform":[{"filter":"datum.m == 1"}],"mark":{"type":"point","clip":true},"encoding":{"x":{"field":"x","type":"quantitative","axis":null},"y":{"field":"z","type":"quantitative","axis":null}}},
{"data":{"values":[{"t":"Stufenhöhe = 98±1 µm"}]},"mark":{"type":"rect","filled":false,"color":"#8c8c8c","strokeWidth":1},"encoding":{"x":{"datum":0.83,"type":"quantitative","axis":{"orient":"top","values":[-10,-5,0,5,10],"labels":false,"title":null}},"x2":{"datum":9.57},"y":{"datum":14.85,"type":"quantitative","axis":{"orient":"right","values":[-60,-40,-20,0,20,40,60],"labels":false,"title":null}},"y2":{"datum":1.85}}},
{"data":{"values":[{"t":"Stufenhöhe = 98±1 µm"}]},"mark":{"type":"text","align":"left","baseline":"middle"},"encoding":{"text":{"field":"t"},"x":{"datum":1.17,"type":"quantitative","axis":null},"y":{"datum":8.35,"type":"quantitative","axis":null}}},
{"data":{"values":[{"t":"Ra = 2.6 µm"}]},"mark":{"type":"rect","filled":false,"color":"#8c8c8c","strokeWidth":1},"encoding":{"x":{"datum":-8.99,"type":"quantitative","axis":null},"x2":{"datum":-3.83},"y":{"datum":-21.9,"type":"quantitative","axis":null},"y2":{"datum":-35.1}}},
{"data":{"values":[{"t":"Ra = 2.6 µm"}]},"mark":{"type":"text","align":"left","baseline":"middle"},"encoding":{"text":{"field":"t"},"x":{"datum":-8.65,"type":"quantitative","axis":null},"y":{"datum":-28.5,"type":"quantitative","axis":null}}}
]},
{"width":415,"height":325,"resolve":{"axis":{"x":"independent","y":"independent"}},"layer":[
{"data":{"name":"g4L"},"mark":{"type":"rule"},"encoding":{"y":{"field":"z","type":"quantitative","scale":{"domain":[-75,79.5],"nice":false,"zero":false},"axis":null}}},
{"data":{"name":"p4L"},"mark":{"type":"line","clip":true},"encoding":{"x":{"field":"x","type":"quantitative","scale":{"domain":[-10,10],"nice":false,"zero":false},"axis":{"values":[-10,-5,0,5,10],"title":"x-Achse in mm","titleX":194}},"y":{"field":"z","type":"quantitative","scale":{"domain":[-75,79.5],"nice":false,"zero":false},"axis":{"values":[-60,-40,-20,0,20,40,60],"title":"z Achse in µm"}}}},
{"data":{"name":"p4L"},"transform":[{"filter":"datum.m == 1"}],"mark":{"type":"point","clip":true},"encoding":{"x":{"field":"x","type":"quantitative","axis":null},"y":{"field":"z","type":"quantitative","axis":null}}},
{"data":{"values":[{"t":"Stufenhöhe = 105±1 µm"}]},"mark":{"type":"rect","filled":false,"color":"#8c8c8c","strokeWidth":1},"encoding":{"x":{"datum":0.83,"type":"quantitative","axis":{"orient":"top","values":[-10,-5,0,5,10],"labels":false,"title":null}},"x2":{"datum":9.95},"y":{"datum":17.56,"type":"quantitative","axis":{"orient":"right","values":[-60,-40,-20,0,20,40,60],"labels":false,"title":null}},"y2":{"datum":4.15}}},
{"data":{"values":[{"t":"Stufenhöhe = 105±1 µm"}]},"mark":{"type":"text","align":"left","baseline":"middle"},"encoding":{"text":{"field":"t"},"x":{"datum":1.17,"type":"quantitative","axis":null},"y":{"datum":10.85,"type":"quantitative","axis":null}}},
{"data":{"values":[{"t":"Ra = 0.5 µm"}]},"mark":{"type":"rect","filled":false,"color":"#8c8c8c","strokeWidth":1},"encoding":{"x":{"datum":-8.97,"type":"quantitative","axis":null},"x2":{"datum":-3.82},"y":{"datum":-20.33,"type":"quantitative","axis":null},"y2":{"datum":-33.88}}},
{"data":{"values":[{"t":"Ra = 0.5 µm"}]},"mark":{"type":"text","align":"left","baseline":"middle"},"encoding":{"text":{"field":"t"},"x":{"datum":-8.63,"type":"quantitative","axis":null},"y":{"datum":-27.1,"type":"quantitative","axis":null}}}
]},
{"width":266,"height":325,"view":{"stroke":null},"data":{"values":[{"t":"PTFE\n(weiß)"}]},"mark":{"type":"text","font":"Open Sans","fontSize":37,"lineBreak":"\n","lineHeight":50,"align":"center","baseline":"middle","color":"#000000"},"encoding":{"text":{"field":"t"},"x":{"datum":0.44,"type":"quantitative","scale":{"domain":[0,1]},"axis":null},"y":{"datum":0.468,"type":"quantitative","scale":{"domain":[0,1],"reverse":true},"axis":null}}},
{"width":415,"height":325,"resolve":{"axis":{"x":"independent","y":"independent"}},"layer":[
{"data":{"name":"g4R"},"mark":{"type":"rule"},"encoding":{"y":{"field":"z","type":"quantitative","scale":{"domain":[-99,75.5],"nice":false,"zero":false},"axis":null}}},
{"data":{"name":"p4R"},"mark":{"type":"line","clip":true},"encoding":{"x":{"field":"x","type":"quantitative","scale":{"domain":[-10,10],"nice":false,"zero":false},"axis":{"values":[-10,-5,0,5,10],"title":"x-Achse in mm","titleX":196}},"y":{"field":"z","type":"quantitative","scale":{"domain":[-99,75.5],"nice":false,"zero":false},"axis":{"values":[-80,-60,-40,-20,0,20,40,60],"title":"z Achse in µm"}}}},
{"data":{"name":"p4R"},"transform":[{"filter":"datum.m == 1"}],"mark":{"type":"point","clip":true},"encoding":{"x":{"field":"x","type":"quantitative","axis":null},"y":{"field":"z","type":"quantitative","axis":null}}},
{"data":{"values":[{"t":"Stufenhöhe = 102±2 µm"}]},"mark":{"type":"rect","filled":false,"color":"#8c8c8c","strokeWidth":1},"encoding":{"x":{"datum":0.83,"type":"quantitative","axis":{"orient":"top","values":[-10,-5,0,5,10],"labels":false,"title":null}},"x2":{"datum":9.97},"y":{"datum":5.5,"type":"quantitative","axis":{"orient":"right","values":[-80,-60,-40,-20,0,20,40,60],"labels":false,"title":null}},"y2":{"datum":-9.6}}},
{"data":{"values":[{"t":"Stufenhöhe = 102±2 µm"}]},"mark":{"type":"text","align":"left","baseline":"middle"},"encoding":{"text":{"field":"t"},"x":{"datum":1.17,"type":"quantitative","axis":null},"y":{"datum":-2.05,"type":"quantitative","axis":null}}},
{"data":{"values":[{"t":"Ra = 4.2 µm"}]},"mark":{"type":"rect","filled":false,"color":"#8c8c8c","strokeWidth":1},"encoding":{"x":{"datum":-8.99,"type":"quantitative","axis":null},"x2":{"datum":-3.83},"y":{"datum":-26.9,"type":"quantitative","axis":null},"y2":{"datum":-42.2}}},
{"data":{"values":[{"t":"Ra = 4.2 µm"}]},"mark":{"type":"text","align":"left","baseline":"middle"},"encoding":{"text":{"field":"t"},"x":{"datum":-8.65,"type":"quantitative","axis":null},"y":{"datum":-34.55,"type":"quantitative","axis":null}}}
]}
]
}
